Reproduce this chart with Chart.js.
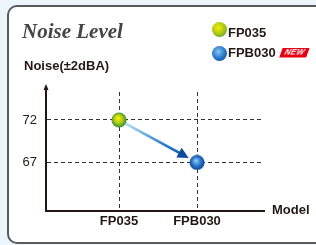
<!DOCTYPE html>
<html>
<head>
<meta charset="utf-8">
<script src="https://cdn.jsdelivr.net/npm/chart.js@4"></script>
<style>
  html, body { margin: 0; padding: 0; }
  body { width: 316px; height: 245px; overflow: hidden; background: #edf5fc; position: relative;
         font-family: 'Liberation Sans', Arial, sans-serif; color: #231815; }
  #frame { position: absolute; left: 7px; top: 5px; width: 322px; height: 239px; box-sizing: border-box;
           border: 2px solid #5a5a5a; border-radius: 10px; background: #fff; }
  #wrap { position: absolute; left: 0; top: 0; width: 316px; height: 245px; }
  .txt { position: absolute; white-space: nowrap; line-height: 1; }
  #title { left: 22px; top: 19px; font: italic bold 21px 'Liberation Serif', serif; color: #454545; }
  #ytitle { left: 24px; top: 59px; font-weight: bold; font-size: 13px; }
  #xtitle { left: 272px; top: 203px; font-weight: bold; font-size: 13px; }
  .leg { position: absolute; left: 212px; width: 15px; height: 15px; border-radius: 50%; }
  #lg1 { top: 22px; background: radial-gradient(circle at 42% 38%, #f6ef00 0%, #a6c81a 50%, #2a8436 100%); }
  #lg2 { top: 46px; background: radial-gradient(circle at 42% 38%, #86c6f4 0%, #2a78cc 50%, #0b3c86 100%); }
  .legt { left: 228px; font-weight: bold; font-size: 13px; }
  #new { position: absolute; left: 281px; top: 48px; width: 27px; height: 9px; background: #e60012;
         transform: skewX(-20deg); color: #fff; font: italic bold 8px 'Liberation Sans', Arial, sans-serif;
         line-height: 9px; text-align: center; letter-spacing: 0.3px; }
</style>
</head>
<body>
<div id="frame"></div>
<div id="wrap"><canvas id="noiseChart"></canvas></div>
<div class="txt" id="title">Noise Level</div>
<div class="txt" id="ytitle">Noise(±2dBA)</div>
<div class="txt" id="xtitle">Model</div>
<div class="leg" id="lg1"></div>
<div class="txt legt" style="top:26px;">FP035</div>
<div class="leg" id="lg2"></div>
<div class="txt legt" style="top:46px;">FPB030</div>
<div id="new">NEW</div>
<script>
// data
const models = ['FP035', 'FPB030'];
const noise = [72, 67];
const yTicks = [67, 72];

// glossy ball for point style
function makeBall(c0, c1, c2, size) {
    const cv = document.createElement('canvas');
    cv.width = cv.height = size;
    const g = cv.getContext('2d');
    const r = size / 2;
    const grad = g.createRadialGradient(r * 0.85, r * 0.75, r * 0.1, r, r, r);
    grad.addColorStop(0, c0);
    grad.addColorStop(0.5, c1);
    grad.addColorStop(1, c2);
    g.fillStyle = grad;
    g.beginPath();
    g.arc(r, r, r - 0.5, 0, Math.PI * 2);
    g.fill();
    return cv;
}
const greenBall = makeBall('#f6ef00', '#a6c81a', '#2a8436', 16);
const blueBall = makeBall('#86c6f4', '#2a78cc', '#0b3c86', 16);

// arrow between the two points + arrowhead on y axis
const arrowPlugin = {
    id: 'arrows',
    beforeDatasetsDraw(chart) {
        const ctx = chart.ctx;
        const pts = chart.getDatasetMeta(0).data;
        if (pts.length < 2) return;
        const a = pts[0], b = pts[1];
        const dx = b.x - a.x, dy = b.y - a.y;
        const len = Math.hypot(dx, dy);
        const ux = dx / len, uy = dy / len;
        const sx = a.x + ux * 7, sy = a.y + uy * 7;
        const tx = b.x - ux * 9.5, ty = b.y - uy * 9.5;
        const hx = tx - ux * 11, hy = ty - uy * 11;
        ctx.save();
        const grad = ctx.createLinearGradient(sx, sy, tx, ty);
        grad.addColorStop(0, '#b4e2f8');
        grad.addColorStop(0.6, '#2f7fcc');
        grad.addColorStop(1, '#0b4a9e');
        ctx.strokeStyle = grad;
        ctx.lineWidth = 2.7;
        ctx.beginPath();
        ctx.moveTo(sx, sy);
        ctx.lineTo(hx + ux * 2, hy + uy * 2);
        ctx.stroke();
        ctx.fillStyle = '#0b4a9e';
        ctx.beginPath();
        ctx.moveTo(tx, ty);
        ctx.lineTo(hx - uy * 5.5, hy + ux * 5.5);
        ctx.lineTo(hx + uy * 5.5, hy - ux * 5.5);
        ctx.closePath();
        ctx.fill();
        ctx.restore();
    },
    afterDraw(chart) {
        const { ctx, chartArea } = chart;
        const x = chartArea.left;
        ctx.save();
        ctx.strokeStyle = '#231815';
        ctx.fillStyle = '#231815';
        ctx.lineWidth = 2;
        ctx.beginPath();
        ctx.moveTo(x, chartArea.top + 1);
        ctx.lineTo(x, chartArea.top - 4);
        ctx.stroke();
        ctx.beginPath();
        ctx.moveTo(x, chartArea.top - 8);
        ctx.lineTo(x - 2.5, chartArea.top - 2);
        ctx.lineTo(x + 2.5, chartArea.top - 2);
        ctx.closePath();
        ctx.fill();
        ctx.restore();
    }
};

new Chart(document.getElementById('noiseChart'), {
    type: 'scatter',
    data: {
        datasets: [{
            data: models.map((m, i) => ({ x: i + 1, y: noise[i] })),
            pointStyle: [greenBall, blueBall],
            showLine: false
        }]
    },
    options: {
        responsive: true,
        maintainAspectRatio: false,
        animation: false,
        layout: { padding: { left: 10, top: 92, right: 52, bottom: 0 } },
        plugins: { legend: { display: false }, tooltip: { enabled: false } },
        scales: {
            x: {
                type: 'linear',
                min: 0.064,
                max: 2.859,
                afterBuildTicks: s => { s.ticks = models.map((m, i) => ({ value: i + 1 })); },
                afterFit: s => { s.height = 34; },
                ticks: {
                    callback: v => models[v - 1],
                    color: '#231815',
                    font: { family: 'Liberation Sans', size: 13, weight: 'bold' },
                    padding: 3,
                    maxRotation: 0
                },
                grid: { color: '#333', lineWidth: 1, drawTicks: false, borderDash: [4, 3] },
                border: { display: true, color: '#231815', width: 2, dash: [4, 3] }
            },
            y: {
                min: 61.29,
                max: 75.29,
                afterBuildTicks: s => { s.ticks = yTicks.map(v => ({ value: v })); },
                afterFit: s => { s.width = 36; },
                ticks: {
                    color: '#231815',
                    font: { family: 'Liberation Sans', size: 13 },
                    padding: 9
                },
                grid: { color: '#333', lineWidth: 1, drawTicks: false, borderDash: [4, 3] },
                border: { display: true, color: '#231815', width: 2, dash: [4, 3] }
            }
        }
    },
    plugins: [arrowPlugin]
});
</script>
</body>
</html>
